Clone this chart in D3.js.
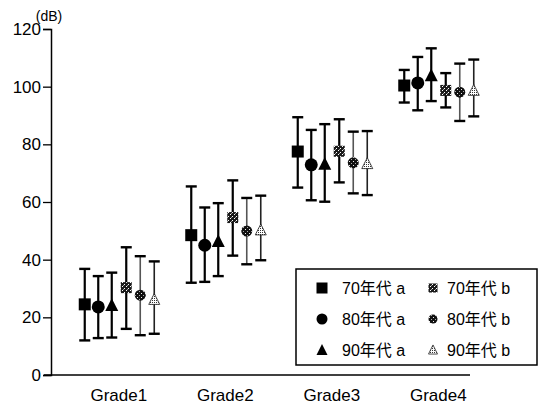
<!DOCTYPE html>
<html>
<head>
<meta charset="utf-8">
<script src="https://d3js.org/d3.v7.min.js"></script>
<style>
  body { margin: 0; background: white; }
  text { font-family: "Liberation Sans", Arial, "Noto Sans CJK JP", sans-serif; }
</style>
</head>
<body>
<div id="chart"></div>
<script>
//data
const grades = ["Grade1", "Grade2", "Grade3", "Grade4"];
const seriesNames = ["70年代 a", "80年代 a", "90年代 a", "70年代 b", "80年代 b", "90年代 b"];
const yTicks = [0, 20, 40, 60, 80, 100, 120];

//means per series, one value per grade
const means70a = [24.5, 48.5, 77.5, 100.4];
const means80a = [23.6, 45.0, 72.9, 101.3];
const means90a = [24.2, 46.4, 73.2, 103.9];
const means70b = [30.3, 54.6, 77.6, 98.7];
const means80b = [27.7, 49.9, 73.6, 98.1];
const means90b = [26.2, 50.3, 73.3, 98.7];

//upper end of error bars
const upper70a = [36.8, 65.4, 89.4, 105.8];
const upper80a = [34.3, 58.1, 85.0, 110.3];
const upper90a = [35.5, 59.6, 87.0, 113.3];
const upper70b = [44.3, 67.5, 88.7, 104.7];
const upper80b = [41.2, 61.4, 84.4, 108.0];
const upper90b = [39.4, 62.2, 84.6, 109.4];

//lower end of error bars
const lower70a = [12.0, 32.0, 65.0, 94.5];
const lower80a = [12.8, 32.3, 60.6, 91.8];
const lower90a = [13.0, 34.3, 60.1, 95.0];
const lower70b = [16.0, 41.4, 66.8, 92.8];
const lower80b = [13.8, 38.4, 63.0, 88.1];
const lower90b = [14.3, 39.8, 62.4, 89.7];

const allMeans = [means70a, means80a, means90a, means70b, means80b, means90b];
const allUpper = [upper70a, upper80a, upper90a, upper70b, upper80b, upper90b];
const allLower = [lower70a, lower80a, lower90a, lower70b, lower80b, lower90b];

const width = 542;
const height = 409;

const svg = d3.select("#chart")
    .append("svg")
    .attr("width", width)
    .attr("height", height);

//patterns for the "b" markers
const defs = svg.append("defs");

const patSq = defs.append("pattern")
    .attr("id", "patSq")
    .attr("patternUnits", "userSpaceOnUse")
    .attr("width", 4).attr("height", 4);
patSq.append("rect").attr("width", 4).attr("height", 4).attr("fill", "#1a1a1a");
patSq.append("rect").attr("x", 0).attr("y", 0).attr("width", 1).attr("height", 1).attr("fill", "#fff");
patSq.append("rect").attr("x", 2).attr("y", 2).attr("width", 1).attr("height", 1).attr("fill", "#fff");
patSq.append("rect").attr("x", 3).attr("y", 1).attr("width", 1).attr("height", 1).attr("fill", "#999");

const patCirc = defs.append("pattern")
    .attr("id", "patCirc")
    .attr("patternUnits", "userSpaceOnUse")
    .attr("width", 4).attr("height", 4);
patCirc.append("rect").attr("width", 4).attr("height", 4).attr("fill", "#111");
patCirc.append("rect").attr("x", 1).attr("y", 1).attr("width", 1).attr("height", 1).attr("fill", "#eee");
patCirc.append("rect").attr("x", 3).attr("y", 3).attr("width", 1).attr("height", 1).attr("fill", "#aaa");

const patTri = defs.append("pattern")
    .attr("id", "patTri")
    .attr("patternUnits", "userSpaceOnUse")
    .attr("width", 2).attr("height", 2);
patTri.append("rect").attr("width", 2).attr("height", 2).attr("fill", "#fff");
patTri.append("rect").attr("width", 1).attr("height", 1).attr("fill", "#333");

//scales
const xScale = d3.scaleBand()
    .domain(grades)
    .range([65.5, 491.5]);

const yScale = d3.scaleLinear()
    .domain([0, 120])
    .range([375, 29]);

//offset of each series inside a grade group
const offsets = [-34, -20.5, -7, 7.5, 21.5, 35.5];

//marker shapes and fills per series
const shapes = ["square", "circle", "triangle", "square", "circle", "triangle"];
const fills = ["#000", "#000", "#000", "url(#patSq)", "url(#patCirc)", "url(#patTri)"];
const sizes = [12, 13, 13, 11, 11, 11];
const barColors = ["#000", "#000", "#000", "#000", "#555", "#222"];
const barWidths = [2.2, 2.2, 2.2, 2.2, 1.6, 1.6];

function drawMarker(g, shape, cx, cy, size, fill) {
    if (shape === "square") {
        g.append("rect")
            .attr("x", cx - size / 2)
            .attr("y", cy - size / 2)
            .attr("width", size)
            .attr("height", size)
            .attr("fill", fill);
    } else if (shape === "circle") {
        g.append("circle")
            .attr("cx", cx)
            .attr("cy", cy)
            .attr("r", size / 2)
            .attr("fill", fill);
    } else {
        const h = size * 0.9;
        g.append("path")
            .attr("d", "M" + cx + "," + (cy - h / 2 - 1) +
                "L" + (cx + size / 2) + "," + (cy + h / 2) +
                "L" + (cx - size / 2) + "," + (cy + h / 2) + "Z")
            .attr("fill", fill)
            .attr("stroke", fill === "#000" ? "none" : "#222")
            .attr("stroke-width", 0.8);
    }
}

//build rows for drawing
const points = [];
seriesNames.forEach(function(name, s) {
    grades.forEach(function(grade, i) {
        points.push({
            s: s,
            x: xScale(grade) + xScale.bandwidth() / 2 + offsets[s],
            mean: allMeans[s][i],
            up: allUpper[s][i],
            low: allLower[s][i]
        });
    });
});

//error bars
const bars = svg.append("g");
points.forEach(function(d) {
    bars.append("line")
        .attr("x1", d.x).attr("x2", d.x)
        .attr("y1", yScale(d.up)).attr("y2", yScale(d.low))
        .attr("stroke", barColors[d.s])
        .attr("stroke-width", barWidths[d.s]);
    [d.up, d.low].forEach(function(v) {
        bars.append("line")
            .attr("x1", d.x - 5.5).attr("x2", d.x + 5.5)
            .attr("y1", yScale(v)).attr("y2", yScale(v))
            .attr("stroke", "#000")
            .attr("stroke-width", 2.4);
    });
});

//markers
const markers = svg.append("g");
points.forEach(function(d) {
    drawMarker(markers, shapes[d.s], d.x, yScale(d.mean), sizes[d.s], fills[d.s]);
});

//y axis
const yAxis = svg.append("g")
    .attr("transform", "translate(51,0)")
    .call(d3.axisLeft(yScale).tickValues(yTicks).tickSize(8).tickPadding(2));
yAxis.select(".domain").attr("stroke-width", 1.5);
yAxis.selectAll(".tick line").attr("stroke-width", 1.3);
yAxis.selectAll("text")
    .style("font-size", "17px")
    .attr("fill", "#000");

//unit label
svg.append("text")
    .attr("x", 49)
    .attr("y", 21)
    .attr("text-anchor", "middle")
    .style("font-size", "14px")
    .text("(dB)");

//x axis
const xAxis = svg.append("g")
    .attr("transform", "translate(0,375)")
    .call(d3.axisBottom(xScale).tickSize(0).tickPadding(14));
xAxis.select(".domain").remove();
xAxis.selectAll("text")
    .style("font-size", "17px")
    .attr("fill", "#000");

svg.append("line")
    .attr("x1", 44).attr("x2", 470)
    .attr("y1", 375).attr("y2", 375)
    .attr("stroke", "#000")
    .attr("stroke-width", 1.5);

//legend
const legend = svg.append("g");
legend.append("rect")
    .attr("x", 296)
    .attr("y", 269)
    .attr("width", 241)
    .attr("height", 96)
    .attr("fill", "#fff")
    .attr("stroke", "#000")
    .attr("stroke-width", 1.5);

const legendRows = [288, 319, 350];
seriesNames.forEach(function(name, s) {
    const col = s < 3 ? 0 : 1;
    const ly = legendRows[s % 3];
    const sx = col === 0 ? 322 : 433;
    const tx = col === 0 ? 342 : 447;
    drawMarker(legend, shapes[s], sx, ly, col === 0 ? 11 : 9, fills[s]);
    legend.append("text")
        .attr("x", tx)
        .attr("y", ly + 6)
        .style("font-size", "16px")
        .text(name);
});
</script>
</body>
</html>
